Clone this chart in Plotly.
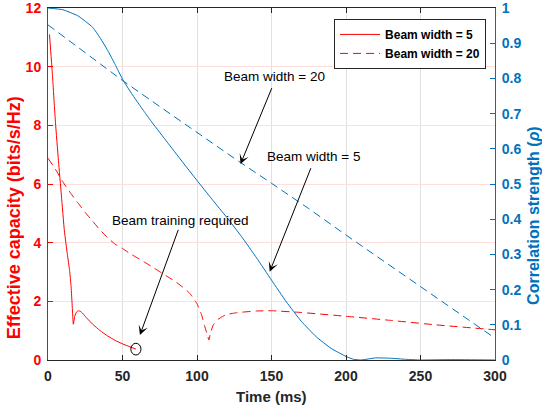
import plotly.graph_objects as go

# ---------------- data ----------------
# Effective capacity, beam width = 5 (red solid)
bw5_time = [1, 3, 5, 7, 9, 11, 13, 14.5, 15.5, 16.3, 17, 18, 19.2, 20.5, 22, 24, 26, 30, 35, 40, 45, 50, 55, 59]
bw5_cap = [11.1, 9.7, 8.1, 6.8, 5.6, 4.4, 3.6, 3.05, 2.5, 1.8, 1.22, 1.5, 1.64, 1.68, 1.65, 1.55, 1.43, 1.22, 1.0, 0.82, 0.67, 0.55, 0.45, 0.37]

# Effective capacity, beam width = 20 (red dashed)
bw20_time = [0, 5, 10, 15, 20, 25, 30, 35, 40, 45, 50, 55, 60, 65, 70, 75, 80, 85, 90, 95, 100, 103, 105,
             107, 108, 109, 111, 114, 117, 120, 125, 130, 140, 150, 170, 200, 230, 260, 300]
bw20_cap = [6.88, 6.5, 6.07, 5.7, 5.36, 5.03, 4.73, 4.43, 4.17, 3.95, 3.8, 3.63, 3.48, 3.33, 3.17, 3.01, 2.85,
            2.69, 2.5, 2.28, 1.92, 1.55, 1.18, 0.85, 0.68, 0.92, 1.2, 1.38, 1.48, 1.55, 1.6, 1.63, 1.67, 1.68,
            1.62, 1.49, 1.35, 1.2, 1.03]

# Correlation strength, beam width = 5 (blue solid)
rho5_time = [0, 10, 20, 30, 35, 40, 45, 50, 55, 60, 65, 70, 80, 90, 100, 110, 120, 130, 140, 150, 160, 170,
             180, 190, 200, 205, 210, 220, 230, 240, 250, 270, 300]
rho5 = [1.0, 0.995, 0.978, 0.945, 0.915, 0.88, 0.84, 0.798, 0.764, 0.733, 0.703, 0.674, 0.619, 0.564, 0.51,
        0.457, 0.405, 0.35, 0.29, 0.227, 0.165, 0.11, 0.066, 0.033, 0.01, 0.002, 0.0, 0.006, 0.005, 0.002,
        0.0, 0.001, 0.0]

# Correlation strength, beam width = 20 (blue dashed)
rho20_time = [0, 25, 50, 75, 100, 125, 150, 175, 200, 225, 250, 275, 300]
rho20 = [0.952, 0.873, 0.794, 0.72, 0.646, 0.573, 0.502, 0.43, 0.355, 0.282, 0.208, 0.135, 0.062]

x_ticks = [0, 50, 100, 150, 200, 250, 300]
y_ticks = [0, 2, 4, 6, 8, 10, 12]
y2_ticks = [0, 0.1, 0.2, 0.3, 0.4, 0.5, 0.6, 0.7, 0.8, 0.9, 1]
y2_ticktext = ["0", "0.1", "0.2", "0.3", "0.4", "0.5", "0.6", "0.7", "0.8", "0.9", "1"]

# ---------------- styles ----------------
RED = "rgb(255,0,0)"
BLUE = "rgb(0,114,189)"
DARK = "rgb(38,38,38)"
FONT = "Liberation Sans, Arial, Helvetica, sans-serif"
DASH = "8px,5px"

fig = go.Figure()
fig.add_trace(go.Scatter(x=bw5_time, y=bw5_cap, mode="lines", name="Beam width = 5",
                         line=dict(color=RED, width=1, shape="spline", smoothing=0.4)))
fig.add_trace(go.Scatter(x=bw20_time, y=bw20_cap, mode="lines", name="Beam width = 20",
                         line=dict(color=RED, width=1, dash=DASH, shape="spline", smoothing=0.4)))
fig.add_trace(go.Scatter(x=rho5_time, y=rho5, mode="lines", yaxis="y2", showlegend=False,
                         line=dict(color=BLUE, width=1, shape="spline", smoothing=0.4)))
fig.add_trace(go.Scatter(x=rho20_time, y=rho20, mode="lines", yaxis="y2", showlegend=False,
                         line=dict(color=BLUE, width=1, dash=DASH)))

# ellipse around the end of the beam-width-5 curve (beam training point)
cx, cy = bw5_time[-1], bw5_cap[-1]
fig.add_shape(type="circle", xref="x", yref="y", x0=cx - 3.4, x1=cx + 3.4, y0=cy - 0.2, y1=cy + 0.2,
              line=dict(color="black", width=1))

ann_font = dict(family=FONT, size=13.5, color="black")
texts = [
    ("Beam width = 20", 117.0, 9.66),
    ("Beam width = 5", 145.5, 6.93),
    ("Beam training required", 41.6, 4.75),
]
for t, tx, ty in texts:
    fig.add_annotation(x=tx, y=ty, xref="x", yref="y", text=t, showarrow=False,
                       xanchor="left", yanchor="middle", font=ann_font)

arrows = [
    # tip (x, y), tail (ax, ay)
    (129.2, 6.68, 150.6, 9.32),
    (148.8, 3.01, 176.8, 6.59),
    (61.7, 0.85, 87.8, 4.49),
]
for x, y, ax, ay in arrows:
    fig.add_annotation(x=x, y=y, ax=ax, ay=ay, xref="x", yref="y", axref="x", ayref="y",
                       text="", showarrow=True, arrowhead=3, arrowsize=1.6, arrowwidth=1,
                       arrowcolor="black", standoff=0, startstandoff=0)

# axis titles
fig.add_annotation(x=0.5, y=-0.104, xref="paper", yref="paper", text="<b>Time (ms)</b>",
                   showarrow=False, xanchor="center", yanchor="middle",
                   font=dict(family=FONT, size=15, color=DARK))
fig.add_annotation(x=-0.074, y=0.405, xref="paper", yref="paper",
                   text="<b>Effective capacity (bits/s/Hz)</b>", textangle=-90,
                   showarrow=False, xanchor="center", yanchor="middle",
                   font=dict(family=FONT, size=18, color=RED))
fig.add_annotation(x=1.0855, y=0.41, xref="paper", yref="paper",
                   text="<b>Correlation strength (<i>ρ</i>)</b>", textangle=-90,
                   showarrow=False, xanchor="center", yanchor="middle",
                   font=dict(family=FONT, size=16, color=BLUE))

fig.update_layout(
    width=542, height=412,
    margin=dict(l=48, r=47, t=8, b=52, autoexpand=False),
    paper_bgcolor="white", plot_bgcolor="white",
    font=dict(family=FONT),
    xaxis=dict(range=[0, 300], tickvals=x_ticks, ticks="inside", ticklen=5, tickcolor=DARK,
               showline=True, linecolor=DARK, linewidth=1, mirror="ticks", automargin=False,
               showgrid=True, gridcolor="rgb(225,225,225)", gridwidth=1, zeroline=False,
               ticklabeloverflow="allow", ticklabelstandoff=3,
               tickfont=dict(family=FONT, size=14, color=DARK, weight="bold")),
    yaxis=dict(range=[0, 12], tickvals=y_ticks, ticks="inside", ticklen=5, tickcolor=RED,
               showline=True, linecolor=RED, linewidth=1, automargin=False,
               showgrid=True, gridcolor="rgb(255,222,222)", gridwidth=1, zeroline=False,
               ticklabeloverflow="allow",
               tickfont=dict(family=FONT, size=14, color=RED, weight="bold"), ticklabelstandoff=3),
    yaxis2=dict(range=[0, 1], tickvals=y2_ticks, ticktext=y2_ticktext, overlaying="y", side="right",
                ticks="inside", ticklen=5, tickcolor=BLUE, showline=True, linecolor=BLUE, linewidth=1,
                showgrid=False, zeroline=False, automargin=False, ticklabeloverflow="allow",
                tickfont=dict(family=FONT, size=14, color=BLUE, weight="bold"), ticklabelstandoff=3),
    legend=dict(x=0.98, y=0.969, xanchor="right", yanchor="top", bgcolor="white",
                bordercolor=DARK, borderwidth=1, itemwidth=40,
                font=dict(family=FONT, size=12, color="black", weight="bold"),
                tracegroupgap=0),
    showlegend=True,
)

fig.write_html("out.html", config={"displayModeBar": False},
               post_script="document.body.style.margin='0px';")
